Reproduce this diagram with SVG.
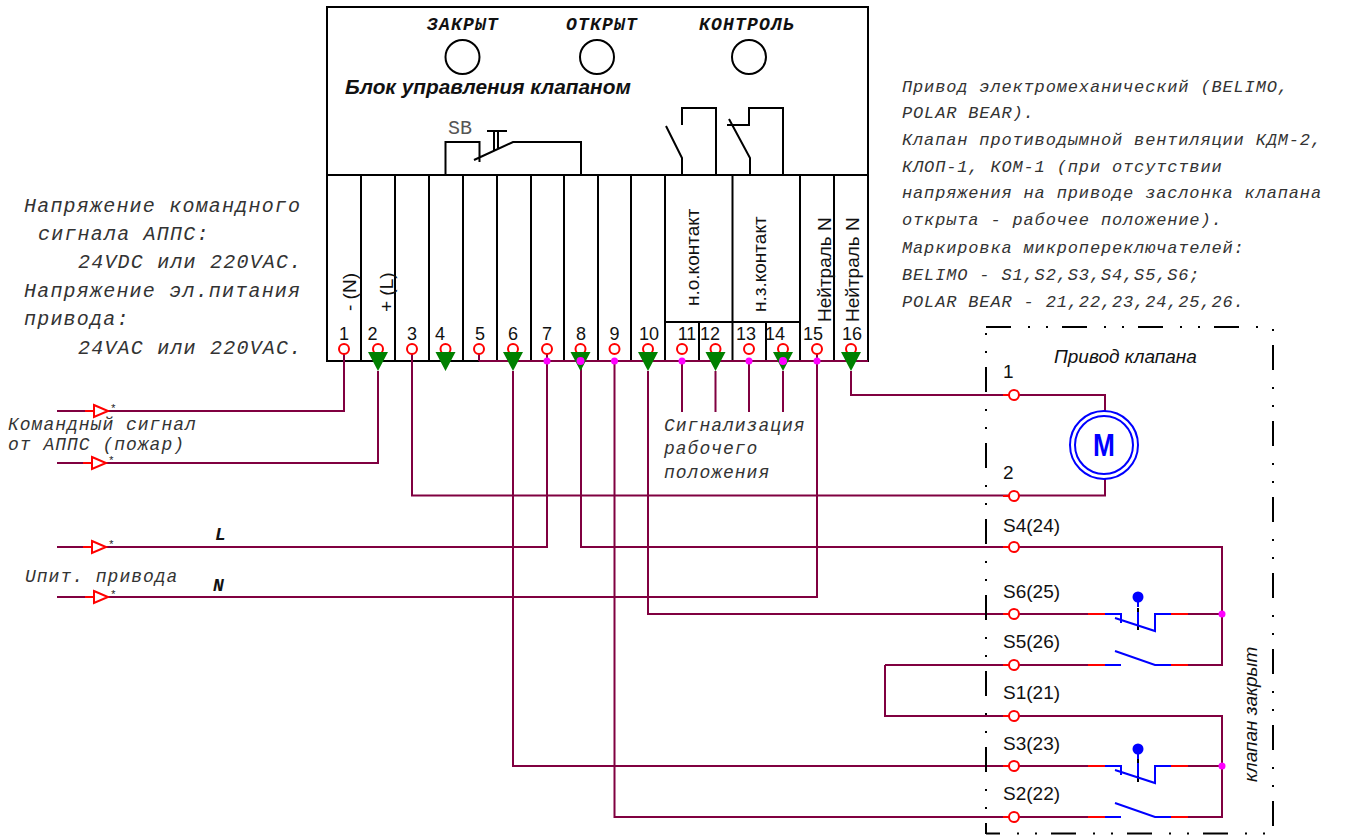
<svg xmlns="http://www.w3.org/2000/svg" width="1369" height="835" viewBox="0 0 1369 835">
<style>
.k{fill:none;stroke:#000;stroke-width:2}
.w{fill:none;stroke:#800040;stroke-width:2}
.r{fill:none;stroke:#f00;stroke-width:2}
.b{fill:none;stroke:#00f;stroke-width:2}
.t{fill:#fff;stroke:#f00;stroke-width:2}
.g{fill:#008000}
.m{fill:#f0f}
.d{fill:none;stroke:#000;stroke-width:2;stroke-dasharray:25 17 2 16 2 14}
.bl{fill:#00f}
.mono{font-family:"Liberation Mono",monospace;font-style:italic;fill:#333}
.m22{font-size:20px;letter-spacing:1.2px}
.m20{font-size:18px;letter-spacing:1px}
.m18{font-size:17px;letter-spacing:.85px}
.hd{font-family:"Liberation Mono",monospace;font-style:italic;font-weight:bold;font-size:18px;letter-spacing:1.2px;fill:#111}
.s{font-family:"Liberation Sans",Arial,sans-serif;fill:#111}
.n{font-size:18px;text-anchor:middle}
.v{font-size:19px}
.l{font-size:19px}
</style>
<g id="control-block">
<rect class="k" x="327" y="7" width="541" height="354" fill="#fff"/>
<path class="k" d="M327 175H868M361 175V361M395 175V361M429 175V361M463 175V361M497 175V361M531 175V361M564 175V361M598 175V361M631 175V361M665 175V361M699 322V361M732.500 175V361M766 322V361M800 175V361M834 175V361M665 322H800"/>
<circle class="k" cx="462.500" cy="57" r="17"/><circle class="k" cx="597" cy="57" r="17"/><circle class="k" cx="749" cy="57" r="17"/>
<text class="hd" x="427" y="30">ЗАКРЫТ</text><text class="hd" x="566" y="30">ОТКРЫТ</text><text class="hd" x="699" y="30">КОНТРОЛЬ</text>
<text class="s" x="345" y="94" font-size="20.800" font-weight="bold" font-style="italic">Блок управления клапаном</text>
<text x="448" y="134" font-family="'Liberation Mono',monospace" font-size="20" fill="#555">SB</text>
<path class="k" d="M445.500 175V142H479.500V162M474 160L513 142H581V175M487 131H507M494 131V150M498 131V148"/>
<path class="k" d="M682 175V158L666 126M716 175V108H682V125M750 175V158L729 119M783 175V108H749V125H727"/>
<g class="s v">
<text transform="translate(356 311) rotate(-90)">- (N)</text>
<text transform="translate(393 312) rotate(-90)">+ (L)</text>
<text transform="translate(699 306) rotate(-90)">н.о.контакт</text>
<text transform="translate(766 312) rotate(-90)">н.з.контакт</text>
<text transform="translate(831 322) rotate(-90)">Нейтраль N</text>
<text transform="translate(859 322) rotate(-90)">Нейтраль N</text>
</g>
<g class="s n">
<text x="344" y="340">1</text><text x="372.500" y="340">2</text><text x="412" y="340">3</text><text x="440" y="340">4</text><text x="480" y="340">5</text><text x="513" y="340">6</text><text x="547" y="340">7</text><text x="581" y="340">8</text><text x="614.500" y="340">9</text><text x="649" y="340">10</text><text x="687" y="340">11</text><text x="710" y="340">12</text><text x="746" y="340">13</text><text x="775" y="340">14</text><text x="813" y="340">15</text><text x="852" y="340">16</text>
</g>
</g>
<g id="connectors">
<path class="w" d="M479 361H868M57 411H344V354M57 463H378V371M412 354V495.500H1105V478M57 547H547V354M57 597H817V354M851 371V395H1105V412M581 360V547H1222V665H1188M648 371V614H1088M1188 614H1222M513 371V766H1088M614.500 361V817H1088M885 665V716H1222V817H1188M885 665H1088M1188 766H1222M682 361V412M715.500 371V412M749 361V412M783 371V412M479 354V361"/>
</g>
<g id="terminals">
<circle class="t" cx="344" cy="349" r="5"/><circle class="t" cx="378" cy="349" r="5"/><circle class="t" cx="412" cy="349" r="5"/><circle class="t" cx="445.500" cy="349" r="5"/><circle class="t" cx="479" cy="349" r="5"/><circle class="t" cx="513" cy="349" r="5"/><circle class="t" cx="547" cy="349" r="5"/><circle class="t" cx="580.500" cy="349" r="5"/><circle class="t" cx="614.500" cy="349" r="5"/><circle class="t" cx="648" cy="349" r="5"/><circle class="t" cx="682" cy="349" r="5"/><circle class="t" cx="715.500" cy="349" r="5"/><circle class="t" cx="749" cy="349" r="5"/><circle class="t" cx="783" cy="349" r="5"/><circle class="t" cx="817" cy="349" r="5"/><circle class="t" cx="851" cy="349" r="5"/>
<path class="g" d="M368 352H388L378 371ZM435.500 352H455.500L445.500 371ZM503 352H523L513 371ZM570.500 352H590.500L580.500 371ZM638 352H658L648 371ZM705.500 352H725.500L715.500 371ZM773 352H793L783 371ZM841 352H861L851 371Z"/>
<circle class="m" cx="547" cy="361" r="3.500"/><circle class="m" cx="580.500" cy="361" r="4"/><circle class="m" cx="614.500" cy="361" r="3.500"/><circle class="m" cx="682" cy="361" r="3.500"/><circle class="m" cx="749" cy="361" r="3.500"/><circle class="m" cx="783" cy="361" r="4"/><circle class="m" cx="817" cy="361" r="3.500"/>
</g>
<g id="inputs">
<path class="r" d="M85 411H94M83 463H92M83 547H92M85 597H94"/>
<path class="t" d="M94 405L108 411L94 417ZM92 457L106 463L92 469ZM92 541L106 547L92 553ZM94 591L108 597L94 603Z"/>
<g font-family="'Liberation Mono',monospace" font-size="11" fill="#222"><text x="110" y="412">*</text><text x="108" y="464">*</text><text x="108" y="548">*</text><text x="110" y="598">*</text></g>
</g>
<g id="drive">
<path class="d" d="M986 327H1273"/>
<path class="d" stroke-dashoffset="11" d="M986 833.500H1273"/>
<path class="d" stroke-dashoffset="38" d="M986 329V834"/>
<path class="d" stroke-dashoffset="58" d="M1273 327V833"/>
<circle cx="1104" cy="445" r="34" fill="#fff" stroke="#00f" stroke-width="2"/><circle cx="1104" cy="445" r="29" fill="none" stroke="#00f" stroke-width="2"/>
<text transform="translate(1104 455.500) scale(.82 1)" text-anchor="middle" font-family="'Liberation Sans',sans-serif" font-weight="bold" font-size="32" fill="#00f">M</text>
<path class="r" d="M1003 395H1010M1003 496H1010M1003 547H1010M1003 614H1010M1003 665H1010M1003 716H1010M1003 766H1010M1003 817H1010"/>
<g class="t"><circle cx="1014" cy="395" r="5"/><circle cx="1014" cy="496" r="5"/><circle cx="1014" cy="547" r="5"/><circle cx="1014" cy="614" r="5"/><circle cx="1014" cy="665" r="5"/><circle cx="1014" cy="716" r="5"/><circle cx="1014" cy="766" r="5"/><circle cx="1014" cy="817" r="5"/></g>
<path class="r" d="M1088 614H1105M1171 614H1188M1088 665H1105M1171 665H1188M1088 766H1105M1171 766H1188M1088 817H1105M1171 817H1188"/>
<path class="k" d="M1138 608V630M1138 759V782"/>
<path class="b" d="M1105 614H1121V623M1115 618L1155 631V614H1171M1105 665H1121M1115 651L1155 665H1171M1105 766H1121V775M1115 770L1155 783V766H1171M1105 817H1121M1115 803L1155 817H1171M1138 597V607M1138 612V625M1138 749V759M1138 763V776"/>
<circle class="bl" cx="1138" cy="597" r="5.500"/><circle class="bl" cx="1138" cy="749" r="5.500"/>
<circle class="m" cx="1222" cy="614" r="3.500"/><circle class="m" cx="1222" cy="766" r="3.500"/>
<g class="s l">
<text x="1003" y="378">1</text><text x="1003" y="479">2</text>
<text x="1003" y="532">S4(24)</text><text x="1003" y="598">S6(25)</text><text x="1003" y="648">S5(26)</text><text x="1003" y="699">S1(21)</text><text x="1003" y="750">S3(23)</text><text x="1003" y="800">S2(22)</text>
<text x="1054" y="362.500" font-style="italic">Привод клапана</text>
<text transform="translate(1257 782) rotate(-90)" font-style="italic">клапан закрыт</text>
</g>
</g>
<g id="notes">
<g class="mono m22">
<text x="24" y="212">Напряжение командного</text>
<text x="38" y="240">сигнала АППС:</text>
<text x="78" y="268">24VDC или 220VAC.</text>
<text x="24" y="297">Напряжение эл.питания</text>
<text x="24" y="325">привода:</text>
<text x="78" y="354">24VAC или 220VAC.</text>
</g>
<g class="mono m20">
<text x="8" y="430">Командный сигнал</text>
<text x="8" y="450">от АППС (пожар)</text>
<text x="25" y="582">Uпит. привода</text>
<text x="664" y="431">Сигнализация</text>
<text x="664" y="453.500">рабочего</text>
<text x="664" y="478">положения</text>
</g>
<text class="hd" x="215" y="540">L</text><text class="hd" x="213" y="591">N</text>
<g class="mono m18">
<text x="902" y="92">Привод электромеханический (BELIMO,</text>
<text x="902" y="118">POLAR BEAR).</text>
<text x="902" y="145">Клапан противодымной вентиляции КДМ-2,</text>
<text x="902" y="172">КЛОП-1, КОМ-1 (при отсутствии</text>
<text x="902" y="198">напряжения на приводе заслонка клапана</text>
<text x="902" y="225">открыта - рабочее положение).</text>
<text x="902" y="253">Маркировка микропереключателей:</text>
<text x="902" y="280">BELIMO - S1,S2,S3,S4,S5,S6;</text>
<text x="902" y="307">POLAR BEAR - 21,22,23,24,25,26.</text>
</g>
</g>
</svg>
